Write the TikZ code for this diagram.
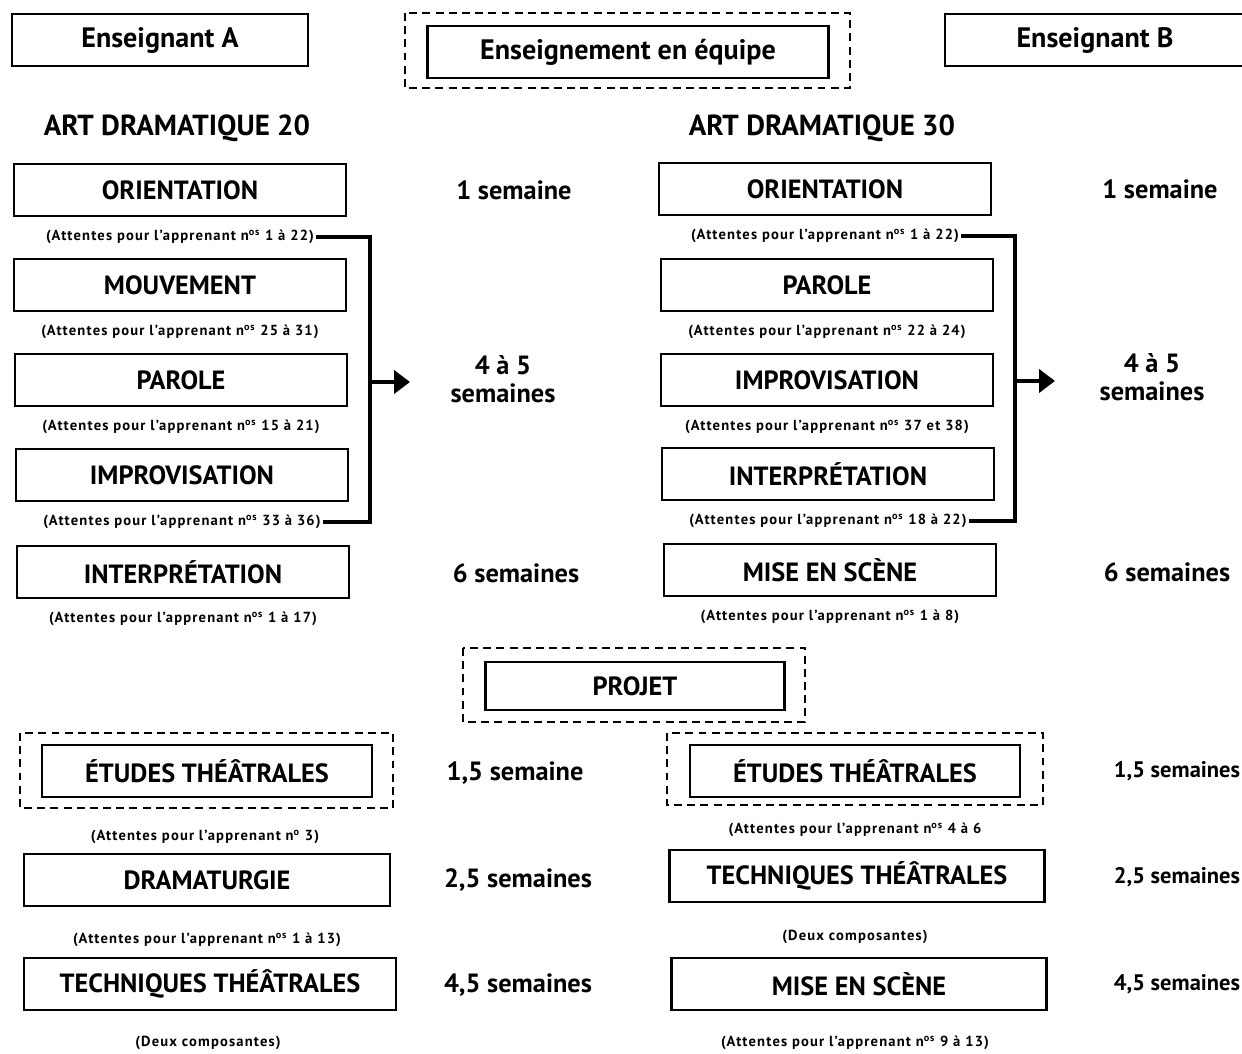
\documentclass[tikz,border=0pt]{standalone}
\usepackage{fontspec}
\setmainfont{PT Sans}
\usetikzlibrary{arrows.meta}
\newcommand*{\Note}[1]{(Attentes pour l'apprenant n\textsuperscript{os} #1)}
\newcommand*{\CourseColumn}[2]{% #1 = prefix, #2 = list of n/x/y/label/range
  \foreach \n/\x/\y/\lbl/\rng in {#2} {
    \node [box=6.64cm] (#1\n) at (\x,\y) {\lbl};
    \node [note] (n#1\n) at (\x,\y+47) {\Note{\rng}};
    }%
}
\tikzset{
  box/.style={draw, line width=1.5pt, minimum width=#1, minimum height=1.04cm,
    inner sep=0pt, font=\fontsize{15}{17}\selectfont\bfseries},
  dashbox/.style={draw, line width=1.3pt, dash pattern=on 4.5pt off 3pt},
  note/.style={inner sep=1pt,
    font=\fontsize{8.3}{9}\selectfont\bfseries\addfontfeatures{LetterSpace=8}},
  dur/.style={align=center, font=\fontsize{15}{16}\selectfont\bfseries},
  head/.style={font=\fontsize{16.5}{18}\selectfont\bfseries},
  bracket/.style={line width=2.2pt}
}

\begin{document}
\begin{tikzpicture}[x=0.02cm,y=-0.02cm]
  \useasboundingbox (0,0) rectangle (1242,1054);
  % teachers
  \node [box=5.92cm, font=\fontsize{16}{18}\selectfont\bfseries] (ensA) at (160,40) {Enseignant A};
  \node [box=8.02cm, font=\fontsize{16}{18}\selectfont\bfseries] (team) at (628,52) {Enseignement en équipe};
  \draw [dashbox] (405,13) rectangle (850,88);
  \node [box=6cm, font=\fontsize{16}{18}\selectfont\bfseries] (ensB) at (1095,40) {Enseignant B};
  \node [head] (ad20) at (177,128) {ART DRAMATIQUE 20};
  \node [head] (ad30) at (822,128) {ART DRAMATIQUE 30};
  % first half of the year
  \CourseColumn{a}{1/180/190/ORIENTATION/1 à 22, 2/180/285/MOUVEMENT/25 à 31,
    3/181/380/PAROLE/15 à 21, 4/182/475/IMPROVISATION/33 à 36,
    5/183/572/INTERPRÉTATION/1 à 17}
  \CourseColumn{b}{1/825/189/ORIENTATION/1 à 22, 2/827/285/PAROLE/22 à 24,
    3/827/380/IMPROVISATION/37 et 38, 4/828/474/INTERPRÉTATION/18 à 22,
    5/830/570/MISE EN SCÈNE/1 à 8}
  \coordinate (brA) at (370,382);
  \coordinate (tipA) at (410,382);
  \coordinate (brB) at (1015,381);
  \coordinate (tipB) at (1055,381);
  \draw [bracket] (na1.east) -| (brA) |- (na4.east);
  \draw [bracket] (nb1.east) -| (brB) |- (nb4.east);
  \draw [bracket, -{Triangle[length=9pt,width=13pt]}] (brA) -- (tipA);
  \draw [bracket, -{Triangle[length=9pt,width=13pt]}] (brB) -- (tipB);
  % project
  \node [box=5.98cm, minimum height=0.96cm] (projet) at (635,686) {PROJET};
  \draw [dashbox] (463,648) rectangle (805,722);
  \node [box=6.6cm] (etA) at (207,771) {ÉTUDES THÉÂTRALES};
  \draw [dashbox] (20,733) rectangle (393,808);
  \node [note] (netA) at (205,837) {(Attentes pour l'apprenant n\textsuperscript{o} 3)};
  \node [box=7.32cm] (dramA) at (207,880) {DRAMATURGIE};
  \node [note] (ndramA) at (207,940) {\Note{1 à 13}};
  \node [box=7.44cm] (techA) at (210,984) {TECHNIQUES THÉÂTRALES};
  \node [note] (ntechA) at (208,1043) {(Deux composantes)};
  \node [box=6.6cm] (etB) at (855,771) {ÉTUDES THÉÂTRALES};
  \draw [dashbox] (667,733) rectangle (1043,805);
  \node [note] (netB) at (855,830) {(Attentes pour l'apprenant n\textsuperscript{os} 4 à 6};
  \node [box=7.5cm] (techB) at (857,876) {TECHNIQUES THÉÂTRALES};
  \node [note] (ntechB) at (855,937) {(Deux composantes)};
  \node [box=7.5cm] (misB) at (859,984) {MISE EN SCÈNE};
  \node [note] (nmisB) at (855,1043) {\Note{9 à 13}};
  % durations
  \foreach \x/\y/\lbl [count=\i] in {514/190/1 semaine, 503/379/4 à 5\\semaines,
      516/573/6 semaines, 1160/189/1 semaine, 1152/377/4 à 5\\semaines,
      1167/572/6 semaines, 515/773/{1,5 semaine}, 518/880/{2,5 semaines},
      518/985/{4,5 semaines}}
    \node [dur] (dur\i) at (\x,\y) {\lbl};
  \foreach \y/\lbl [count=\i] in {771/{1,5 semaines}, 877/{2,5 semaines}, 984/{4,5 semaines}}
    \node [dur, font=\fontsize{12.8}{14}\selectfont\bfseries] (durB\i) at (1177,\y) {\lbl};
\end{tikzpicture}
\end{document}
